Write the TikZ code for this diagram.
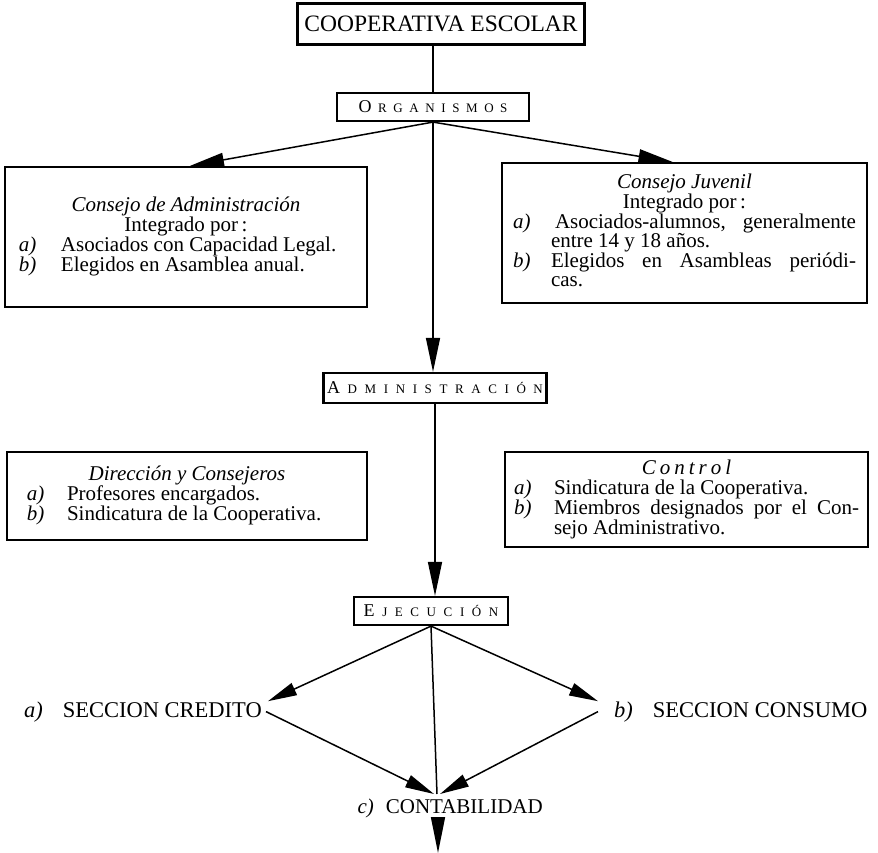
\documentclass[tikz,border=0pt]{standalone}
\usepackage{fontspec}
\setmainfont{Liberation Serif}
\usetikzlibrary{arrows.meta,calc}
\newlength{\spreadamt}
\def\spread#1{\spreadi#1\relax}
\def\spreadi#1{\ifx#1\relax\unskip\else#1\hspace{\spreadamt}\expandafter\spreadi\fi}
\newcommand{\fakesc}[3]{\setlength{\spreadamt}{#3}{\fontsize{18}{18}\selectfont #1}\hspace{\spreadamt}{\fontsize{13}{13}\selectfont\spread{#2}}}
\newcommand{\bodyfont}{\fontsize{21}{19}\selectfont\renewcommand{\arraystretch}{0.95}}
\newcommand{\capsfont}{\fontsize{22.5}{22.5}\selectfont}
\begin{document}
\begin{tikzpicture}[x=1pt,y=-1pt,
  box/.style={draw, line width=2.2pt, rectangle, inner sep=0pt, align=center},
  conn/.style={line width=1.5pt},
  arr/.style={conn, -{Triangle[length=34pt,width=14pt]}},
  sarr/.style={conn, -{Triangle[length=29pt,width=13pt]}},
  lab/.style={inner sep=0pt}]
\useasboundingbox (0,0) rectangle (878,853);
\fill[white] (0,0) rectangle (878,853);

% top boxes
\node[box, minimum width=287, minimum height=41] (coop) at (441,24) {\fontsize{23.5}{23.5}\selectfont COOPERATIVA ESCOLAR};
\node[box, minimum width=192, minimum height=28] (org) at (433,107) {\fakesc{O}{RGANISMOS}{6.6pt}};

\node[box, minimum width=362, minimum height=140] (cja) at (186,237) {\bodyfont
\begin{tabular}{@{}p{42pt}@{}p{292pt}@{}}
\multicolumn{2}{c}{\textit{Consejo de Administración}}\\
\multicolumn{2}{c}{Integrado por\,:}\\
\textit{a)} & Asociados con Capacidad Legal.\\
\textit{b)} & Elegidos en Asamblea anual.
\end{tabular}};

\node[box, minimum width=365, minimum height=140] (cju) at (684.5,233) {\bodyfont
\begin{tabular}{@{}p{38pt}@{}p{305pt}@{}}
\multicolumn{2}{c}{\textit{Consejo Juvenil}}\\
\multicolumn{2}{c}{Integrado por\,:}\\
\textit{a)} & \hspace{4pt}Asociados-alumnos, generalmente\linebreak entre 14 y 18 años.\\
\textit{b)} & Elegidos en Asambleas periódi-\linebreak cas.
\end{tabular}};

\node[box, minimum width=223, minimum height=30] (adm) at (435,388) {\fakesc{A}{DMINISTRACIÓN}{7.6pt}};

\node[box, minimum width=360, minimum height=88] (dir) at (187,496) {\bodyfont
\begin{tabular}{@{}p{40pt}@{}p{280pt}@{}}
\multicolumn{2}{c}{\textit{Dirección y Consejeros}}\\
\textit{a)} & Profesores encargados.\\
\textit{b)} & Sindicatura de la Cooperativa.
\end{tabular}};

\node[box, minimum width=363, minimum height=95] (ctl) at (686.5,499.5) {\bodyfont
\begin{tabular}{@{}p{40pt}@{}p{305pt}@{}}
\multicolumn{2}{c}{\setlength{\spreadamt}{4pt}\textit{\spread{Control}}}\\
\textit{a)} & Sindicatura de la Cooperativa.\\
\textit{b)} & Miembros designados por el Con-\linebreak sejo Administrativo.
\end{tabular}};

\node[box, minimum width=154, minimum height=28] (eje) at (431,611) {\fakesc{E}{JECUCIÓN}{7.6pt}};

% bottom labels
\node[lab, anchor=base east] (cred) at (262,717) {\capsfont\textit{a)}\hspace{20pt}SECCION CREDITO};
\node[lab, anchor=base west] (cons) at (614,717) {\capsfont\textit{b)}\hspace{20pt}SECCION CONSUMO};
\node[lab, anchor=base east] (cont) at (543,813) {\fontsize{21}{21}\selectfont\textit{c)}\hspace{12pt}CONTABILIDAD};
\coordinate (ctop) at (437,794);
\coordinate (cbot) at (438,817);
\coordinate (cend) at (438,853);

% connectors
\draw[conn] (coop.south -| org.north) -- (org.north);
\draw[arr] (org.south) -- ([xshift=4pt]cja.north);
\draw[arr] (org.south) -- ([xshift=-12pt]cju.north);
\draw[arr] (org.south) -- (org.south |- adm.north);
\draw[arr] (adm.south) -- (adm.south |- eje.north);
\draw[sarr] (eje.south) -- ([xshift=6pt]cred.north east);
\draw[sarr] (eje.south) -- ([xshift=-16pt]cons.north west);
\draw[conn] (eje.south) -- (ctop);
\draw[sarr] ([xshift=4pt]cred.east) -- ([xshift=-3pt]ctop);
\draw[sarr] ([xshift=-16pt]cons.west) -- ([xshift=3pt]ctop);
\draw[conn, -{Triangle[length=36pt,width=14pt]}] (cbot) -- (cend);
\end{tikzpicture}
\end{document}
